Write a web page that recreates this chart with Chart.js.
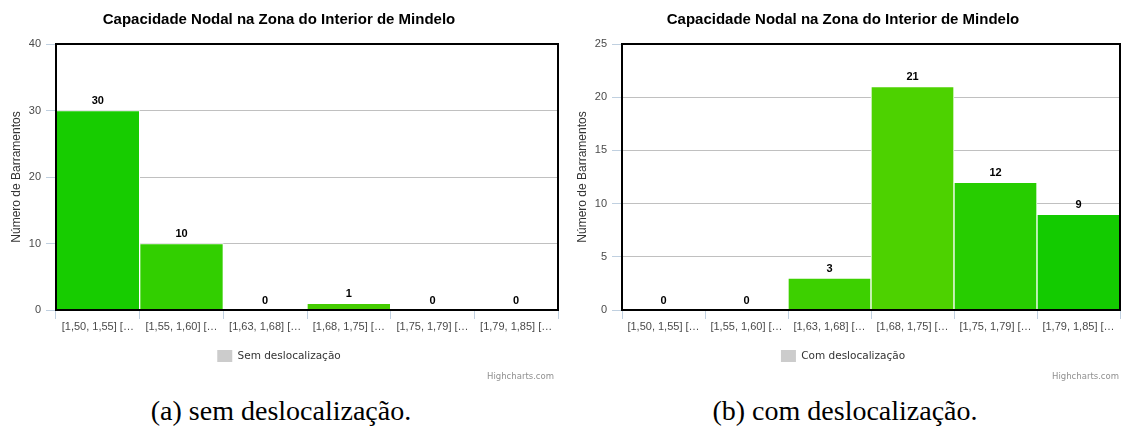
<!DOCTYPE html>
<html>
<head>
<meta charset="utf-8">
<script src="https://cdn.jsdelivr.net/npm/chart.js@4"></script>
<style>
	body { margin: 0; background: #fff; }
	#wrap { position: relative; width: 1124px; height: 427px; overflow: hidden; }
	.box { position: absolute; top: 0; height: 385px; }
	.credit { position: absolute; top: 371px; font: 8.5px "DejaVu Sans", sans-serif; color: #909090; line-height: 11px; }
	.cap { position: absolute; top: 395px; text-align: center; font: 28px "Liberation Serif", serif; line-height: 32px; color: #000; }
</style>
</head>
<body>
<div id="wrap">
	<div class="box" style="left:0;width:562px"><canvas id="chartSem"></canvas></div>
	<div class="box" style="left:566px;width:558px"><canvas id="chartCom"></canvas></div>
	<div class="credit" style="right:570px">Highcharts.com</div>
	<div class="credit" style="right:5px">Highcharts.com</div>
	<div class="cap" style="left:0;width:562px">(a) sem deslocalização.</div>
	<div class="cap" style="left:566px;width:558px">(b) com deslocalização.</div>
</div>
<script>

var titulo = 'Capacidade Nodal na Zona do Interior de Mindelo';
var eixoY = 'Número de Barramentos';

//Intervalos de capacidade (etiquetas cortadas como no original)
var categorias = ['[1,50, 1,55] […', '[1,55, 1,60] […', '[1,63, 1,68] […', '[1,68, 1,75] […', '[1,75, 1,79] […', '[1,79, 1,85] […'];

var semValores = [30, 10, 0, 1, 0, 0];
var comValores = [0, 0, 3, 21, 12, 9];

var semCores = ['#17cc00', '#32cf00', '#3dcf00', '#44cc00', '#2bcc00', '#1acc00'];
var comCores = ['#17cc00', '#32cf00', '#3dd000', '#4dd200', '#27cd00', '#13cb00'];

var semTicks = [0, 10, 20, 30, 40];
var comTicks = [0, 5, 10, 15, 20, 25];

var fonte = '"Liberation Sans", Arial, sans-serif';

//Moldura preta da area do grafico e etiquetas dos valores
var molduraPlugin = {
	id: 'moldura',
	afterDatasetsDraw: function(chart) {
		var ctx = chart.ctx;
		var a = chart.chartArea;
		ctx.save();
		ctx.strokeStyle = '#000';
		ctx.lineWidth = 2;
		ctx.strokeRect(a.left, a.top, a.right - a.left, a.bottom - a.top);

		var meta = chart.getDatasetMeta(0);
		var vals = chart.data.datasets[0].data;
		ctx.fillStyle = '#000';
		ctx.font = 'bold 11px ' + fonte;
		ctx.textAlign = 'center';
		ctx.textBaseline = 'bottom';
		for (var i = 0; i < meta.data.length; i++) {
			var bar = meta.data[i];
			ctx.fillText(String(vals[i]), bar.x, bar.y - 4);
		}
		ctx.restore();
	}
};

function criaGrafico(id, legenda, valores, cores, ticks) {
	var ctx = document.getElementById(id).getContext('2d');
	return new Chart(ctx, {
		type: 'bar',
		data: {
			labels: categorias,
			datasets: [{
				label: legenda,
				data: valores,
				backgroundColor: cores,
				borderColor: '#ffffff',
				borderWidth: 1,
				categoryPercentage: 1,
				barPercentage: 1
			}]
		},
		options: {
			responsive: true,
			maintainAspectRatio: false,
			animation: false,
			layout: { padding: { left: 0, right: 4, top: 0, bottom: 13 } },
			plugins: {
				tooltip: { enabled: false },
				title: {
					display: true,
					text: titulo,
					color: '#000',
					font: { family: fonte, size: 15, weight: 'bold', lineHeight: 1.2 },
					padding: { top: 11, bottom: 15 }
				},
				legend: {
					display: true,
					position: 'bottom',
					labels: {
						boxWidth: 15,
						boxHeight: 12,
						color: '#333',
						font: { family: '"DejaVu Sans", sans-serif', size: 10.5 },
						generateLabels: function() {
							return [{ text: legenda, fillStyle: '#cccccc', strokeStyle: '#cccccc', lineWidth: 0, fontColor: '#333' }];
						}
					},
					onClick: null
				}
			},
			scales: {
				x: {
					grid: { display: true, drawOnChartArea: false, drawTicks: true, tickLength: 9, tickColor: '#c0d0e0', offset: true },
					border: { display: false },
					ticks: { color: '#4a4a4a', font: { family: fonte, size: 11 }, maxRotation: 0, autoSkip: false, padding: 1 },
					afterFit: function(s) { s.height = 30; }
				},
				y: {
					min: 0,
					max: ticks[ticks.length - 1],
					afterBuildTicks: function(s) { s.ticks = ticks.map(function(v) { return { value: v }; }); },
					grid: { color: '#c0c0c0', tickColor: '#c0d0e0', tickLength: 10 },
					border: { display: false },
					ticks: { color: '#4a4a4a', font: { family: fonte, size: 11 }, padding: 5 },
					title: {
						display: true,
						text: eixoY,
						color: '#333',
						font: { family: fonte, size: 12, lineHeight: 1.2 },
						padding: { top: 9, bottom: 0 }
					},
					afterFit: function(s) { s.width = 56; }
				}
			}
		},
		plugins: [molduraPlugin]
	});
}

criaGrafico('chartSem', 'Sem deslocalização', semValores, semCores, semTicks);
criaGrafico('chartCom', 'Com deslocalização', comValores, comCores, comTicks);

</script>
</body>
</html>
